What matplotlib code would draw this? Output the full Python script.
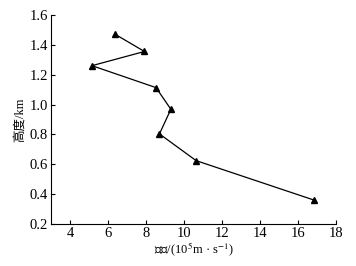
import matplotlib.pyplot as plt

plt.rcParams['font.family'] = ['Liberation Serif', 'Noto Sans CJK SC']
plt.rcParams['mathtext.fontset'] = 'stix'

# speed (10^5 m/s) vs height (km)
speed = [6.38, 7.92, 5.16, 8.53, 9.31, 8.71, 10.64, 16.84]
height = [1.47, 1.355, 1.26, 1.113, 0.968, 0.803, 0.624, 0.36]

fig = plt.figure(figsize=(3.56, 2.66), dpi=100)
ax = fig.add_axes([0.143, 0.158, 0.801, 0.786])

ax.plot(speed, height, color='black', linewidth=0.9, marker='^', markersize=5)

ax.set_xlim(3, 18)
ax.set_ylim(0.2, 1.6)
ax.set_xticks([4, 6, 8, 10, 12, 14, 16, 18])
ax.set_yticks([0.2, 0.4, 0.6, 0.8, 1.0, 1.2, 1.4, 1.6])
ax.set_yticklabels(['0.2', '0.4', '0.6', '0.8', '1.0', '1.2', '1.4', '1.6'])
ax.tick_params(direction='in', length=3, width=0.8, labelsize=10.5, pad=2)

ax.spines['top'].set_visible(False)
ax.spines['right'].set_visible(False)
ax.spines['left'].set_linewidth(0.8)
ax.spines['bottom'].set_linewidth(0.8)

ax.set_xlabel(r'速度/(10$^5$m · s$^{-1}$)', fontsize=9, labelpad=1)
ax.set_ylabel('高度/km', fontsize=9, labelpad=3)

fig.savefig('out.png', dpi=100)
